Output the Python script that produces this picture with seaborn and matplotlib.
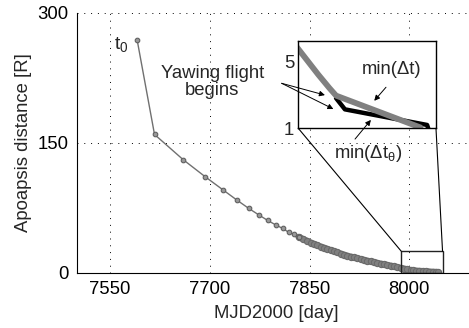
import numpy as np
import matplotlib
matplotlib.use("Agg")
import matplotlib.pyplot as plt
import seaborn as sns
from matplotlib.patches import Rectangle, ConnectionPatch
from matplotlib.ticker import MultipleLocator

# apoapsis history
mjd = [7591, 7617, 7660, 7693, 7719.5, 7740.5, 7758.5, 7774, 7787, 7799, 7809.5,
       7818.5, 7826.5, 7833.5, 7840, 7846, 7852, 7857, 7862, 7867, 7872, 7877,
       7882, 7887, 7892, 7897, 7902, 7907, 7912, 7917, 7922, 7927, 7932, 7937,
       7942, 7947, 7952, 7957, 7962, 7967, 7972, 7977, 7982, 7987, 7992, 7997,
       8002, 8005, 8010, 8015, 8020, 8025, 8030, 8035, 8040, 8043]
apo = [268, 159.6, 130.6, 111, 96, 84.2, 74.5, 66.8, 60.6, 55.5, 51.4,
       47, 44.4, 41.6, 39.3, 37.2, 35.1, 33.4, 31.9, 30.5, 29.1, 27.7,
       26.3, 25.0, 23.7, 22.4, 21.1, 19.9, 18.9, 17.9, 16.9, 16.0, 15.1, 14.2,
       13.3, 12.4, 11.6, 10.8, 10.0, 9.2, 8.5, 7.5, 6.7, 5.9, 5.05, 4.2,
       3.4, 2.95, 2.7, 2.45, 2.2, 1.95, 1.7, 1.45, 1.2, 1.05]
n_sparse = 14  # first orbits drawn with thin line

# min(dt_theta) branch
mjd_theta = [8005, 8009, 8046, 8046.5]
apo_theta = [2.8, 2.13, 1.2, 1.0]

xticks = [7550, 7700, 7850, 8000]
yticks = [0, 150, 300]
inset_xlim = (7988, 8050)
inset_ylim = (1, 6.2)
rect_top = 25

sns.set_style("white")
plt.rcParams['font.family'] = ['Liberation Sans', 'DejaVu Sans']
plt.rcParams['mathtext.fontset'] = 'custom'
plt.rcParams['mathtext.rm'] = 'Liberation Sans'
plt.rcParams['font.size'] = 13.3

gray = '#808080'
fig = plt.figure(figsize=(4.69, 3.28), dpi=100)
ax = fig.add_axes([0.1635, 0.1677, 0.851, 0.794])

sns.lineplot(x=mjd_theta, y=apo_theta, ax=ax, color='black', lw=2.5, sort=False)
sns.lineplot(x=mjd[n_sparse - 1:], y=apo[n_sparse - 1:], ax=ax, color=gray, lw=4.5,
             sort=False, marker='o', ms=4.5, mfc=gray, mec='#6a6a6a', mew=0.8)
sns.lineplot(x=mjd[:n_sparse], y=apo[:n_sparse], ax=ax, color='#707070', lw=1,
             sort=False, marker='o', ms=3.3, mfc='#999999', mec='#606060', mew=0.8)

ax.set_xlim(7500, 8100)
ax.set_ylim(0, 300)
ax.set_xticks(xticks)
ax.set_yticks(yticks)
ax.xaxis.set_minor_locator(MultipleLocator(15))
ax.tick_params(direction='in', length=4, width=0.8, colors='black', pad=6)
ax.tick_params(which='minor', direction='in', length=2.5, width=0.6)
for s in ['top', 'right']:
    ax.spines[s].set_visible(False)
for s in ['left', 'bottom']:
    ax.spines[s].set_color('black')
    ax.spines[s].set_linewidth(0.8)
ax.grid(True, linestyle=(0, (1, 6)), color='black', lw=0.7)
ax.set_axisbelow(True)
ax.set_xlabel('MJD2000 [day]', labelpad=5)
ax.set_ylabel('Apoapsis distance [R]', labelpad=4)

# zoom box and connectors
ax.add_patch(Rectangle((inset_xlim[0], 0), inset_xlim[1] - inset_xlim[0], rect_top,
                       fill=False, ec='#222222', lw=1, zorder=5))

axins = fig.add_axes([0.636, 0.6088, 0.2936, 0.266])
sns.lineplot(x=mjd_theta, y=apo_theta, ax=axins, color='black', lw=3.2, sort=False)
sns.lineplot(x=mjd, y=apo, ax=axins, color=gray, lw=4.2, sort=False)
axins.set_xlim(*inset_xlim)
axins.set_ylim(*inset_ylim)
axins.set_xticks([])
axins.set_yticks([1, 5])
axins.tick_params(axis='y', length=0, pad=3)
for s in axins.spines.values():
    s.set_color('black')
    s.set_linewidth(1)

for xa, xb in [(inset_xlim[0], 0), (inset_xlim[1], 1)]:
    cp = ConnectionPatch(xyA=(xa, rect_top), coordsA='data', axesA=ax,
                         xyB=(xb, 0), coordsB='axes fraction', axesB=axins,
                         color='black', lw=0.8)
    fig.add_artist(cp)

# annotations
fig.text(0.258, 0.862, 't$_{\\mathrm{0}}$', ha='center', va='center', fontsize=14)
fig.text(0.453, 0.75, 'Yawing flight\nbegins', ha='center', va='center',
         linespacing=1.0)
arrow = dict(arrowstyle='-|>', color='black', lw=0.7, mutation_scale=8,
             shrinkA=0, shrinkB=0)
for tx, ty in [(8000, 2.98), (8003.8, 2.15)]:
    axins.annotate('', xy=(tx, ty), xycoords='data', xytext=(0.6006, 0.746),
                   textcoords='figure fraction', arrowprops=arrow)
fig.text(0.8358, 0.7866, 'min(Δt)', ha='center', va='center')
axins.annotate('', xy=(8022.2, 2.64), xycoords='data', xytext=(0.823, 0.734),
               textcoords='figure fraction', arrowprops=arrow)
fig.text(0.7846, 0.5335, 'min(Δt$_{\\mathrm{θ}}$)', ha='center', va='center')
axins.annotate('', xy=(8020.7, 1.5), xycoords='data', xytext=(0.757, 0.576),
               textcoords='figure fraction', arrowprops=arrow)

fig.savefig('out.png', dpi=100)
